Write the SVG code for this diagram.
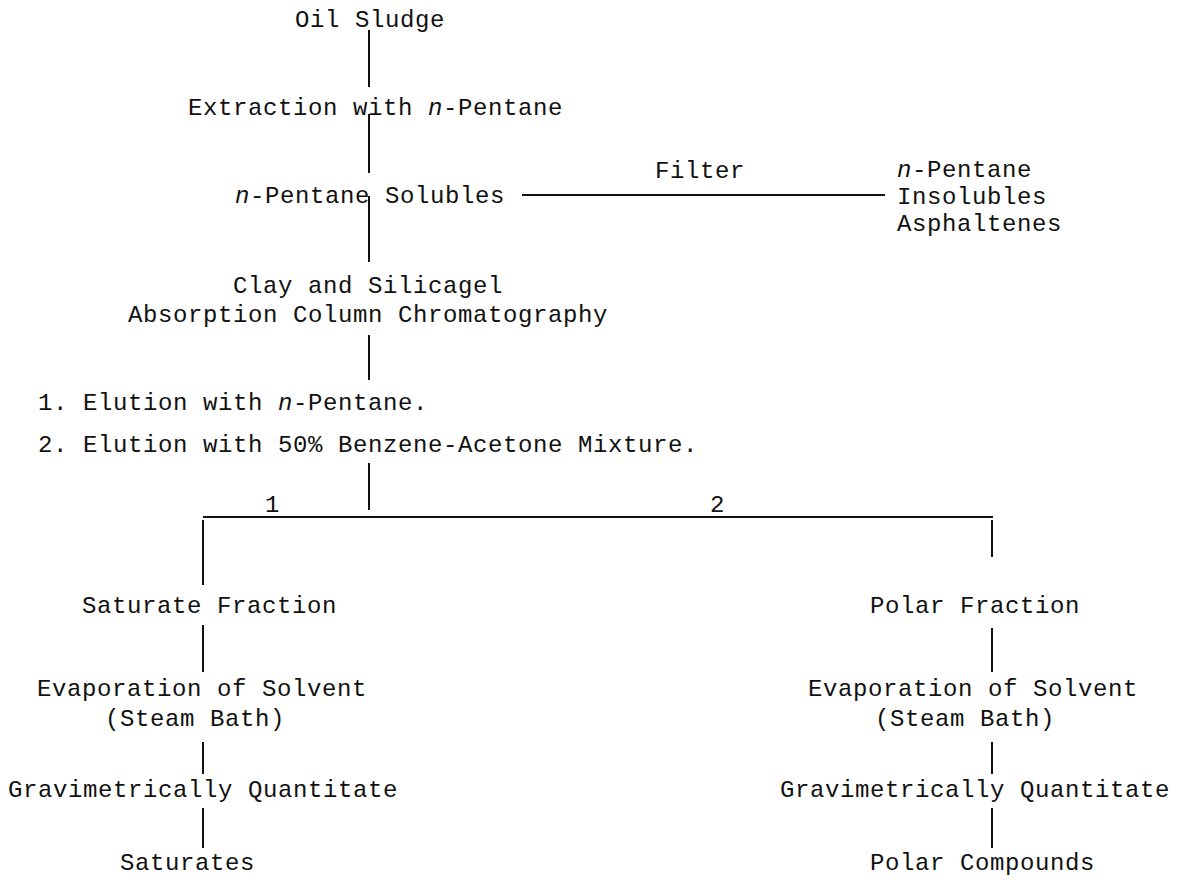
<svg xmlns="http://www.w3.org/2000/svg" width="1177" height="884" viewBox="0 0 1177 884">
<style>
text{font-family:"Liberation Mono","Courier New",monospace;font-size:24px;letter-spacing:0.6px;fill:#111}
.i{font-style:italic}
.c line{stroke:#111;stroke-width:2}
</style>
<rect width="1177" height="884" fill="#fff"/>
<g class="c" id="connectors">
<line x1="369" y1="30" x2="369" y2="87"/>
<line x1="369" y1="114" x2="369" y2="173"/>
<line x1="369" y1="196" x2="369" y2="262"/>
<line x1="522" y1="195" x2="885" y2="195"/>
<line x1="369" y1="335" x2="369" y2="380"/>
<line x1="369" y1="463" x2="369" y2="510"/>
<line x1="203" y1="517" x2="993" y2="517"/>
<line x1="203" y1="520" x2="203" y2="585"/>
<line x1="203" y1="625" x2="203" y2="672"/>
<line x1="203" y1="742" x2="203" y2="774"/>
<line x1="203" y1="808" x2="203" y2="848"/>
<line x1="992" y1="520" x2="992" y2="557"/>
<line x1="992" y1="628" x2="992" y2="672"/>
<line x1="992" y1="742" x2="992" y2="774"/>
<line x1="992" y1="808" x2="992" y2="848"/>
</g>
<g id="oil-sludge"><text x="295" y="27">Oil Sludge</text></g>
<g id="extraction"><text x="188" y="115">Extraction with <tspan class="i">n</tspan>-Pentane</text></g>
<g id="solubles"><text x="235" y="203"><tspan class="i">n</tspan>-Pentane Solubles</text></g>
<g id="filter"><text x="655" y="178">Filter</text></g>
<g id="insolubles"><text x="897" y="177"><tspan class="i">n</tspan>-Pentane</text><text x="897" y="204">Insolubles</text><text x="897" y="231">Asphaltenes</text></g>
<g id="chromatography"><text x="233" y="293">Clay and Silicagel</text><text x="128" y="322">Absorption Column Chromatography</text></g>
<g id="elution"><text x="38" y="410">1. Elution with <tspan class="i">n</tspan>-Pentane.</text><text x="38" y="452">2. Elution with 50% Benzene-Acetone Mixture.</text></g>
<g id="label-1"><text x="265" y="512">1</text></g>
<g id="label-2"><text x="710" y="512">2</text></g>
<g id="saturate-fraction"><text x="82" y="613">Saturate Fraction</text></g>
<g id="evap-left"><text x="37" y="696">Evaporation of Solvent</text><text x="105" y="726">(Steam Bath)</text></g>
<g id="grav-left"><text x="8" y="797">Gravimetrically Quantitate</text></g>
<g id="saturates"><text x="120" y="870">Saturates</text></g>
<g id="polar-fraction"><text x="870" y="613">Polar Fraction</text></g>
<g id="evap-right"><text x="808" y="696">Evaporation of Solvent</text><text x="875" y="726">(Steam Bath)</text></g>
<g id="grav-right"><text x="780" y="797">Gravimetrically Quantitate</text></g>
<g id="polar-compounds"><text x="870" y="870">Polar Compounds</text></g>
</svg>
